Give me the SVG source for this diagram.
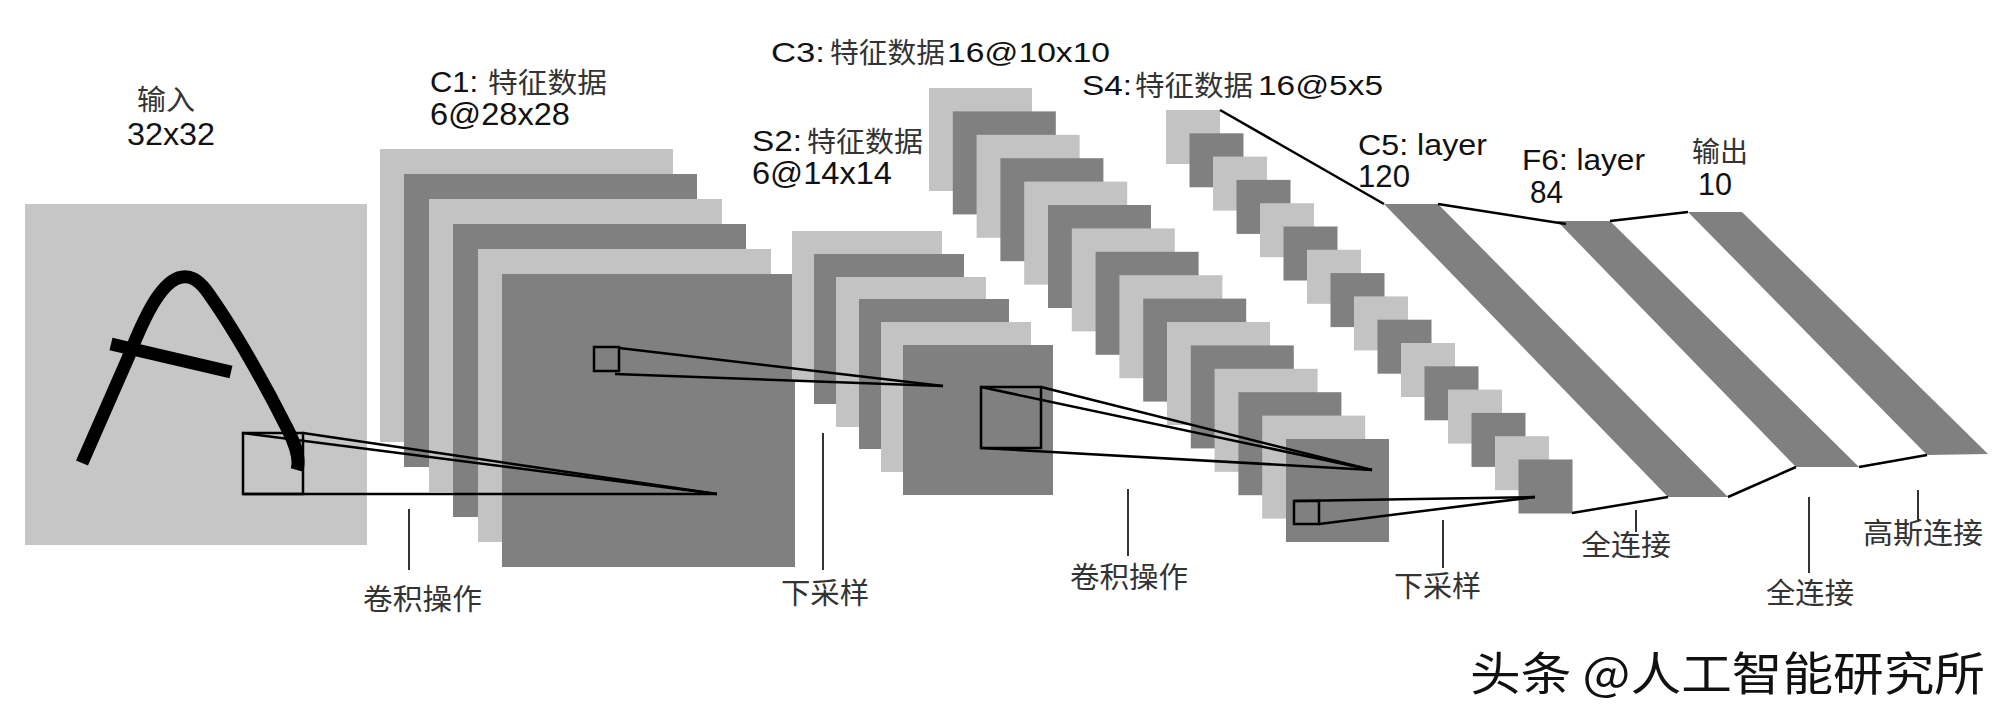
<svg xmlns="http://www.w3.org/2000/svg" width="2014" height="722" viewBox="0 0 2014 722">
<style>
.bg{fill:#ffffff}
.lt{fill:#c3c3c3}
.dk{fill:#808080}
.inp{fill:#c6c6c6}
.band{fill:#808080}
.box{fill:none;stroke:#000;stroke-width:2.5}
.con{stroke:#000;stroke-width:2.5;fill:none}
.tick{stroke:#333;stroke-width:2}
.lat{font-family:"Liberation Sans",Arial,sans-serif;fill:#111}
.cjk{font-family:"Noto Sans CJK SC","Noto Sans",sans-serif;fill:#333}
.wm{font-family:"Noto Sans CJK SC","Noto Sans",sans-serif;fill:#111}
</style>
<rect class="bg" x="0" y="0" width="2014" height="722"/>

<g id="input">
<rect class="inp" x="25" y="204" width="342" height="341"/>
<path d="M 82 463 L 128 358 C 145 315 160 285 178 278 C 190 274 198 280 206 290 C 235 330 268 390 288 430 C 297 448 300 460 297 470" fill="none" stroke="#000" stroke-width="13"/>
<line x1="111" y1="344" x2="231" y2="372" stroke="#000" stroke-width="13"/>
<rect class="box" x="243" y="433" width="60" height="61"/>
<text class="cjk" x="137" y="110" font-size="28" textLength="58" lengthAdjust="spacingAndGlyphs">输入</text>
<text class="lat" x="127" y="145" font-size="32" textLength="88" lengthAdjust="spacingAndGlyphs">32x32</text>
</g>

<g id="c1">
<rect class="lt" x="380" y="149" width="293" height="293"/>
<rect class="dk" x="404" y="174" width="293" height="293"/>
<rect class="lt" x="429" y="199" width="293" height="293"/>
<rect class="dk" x="453" y="224" width="293" height="293"/>
<rect class="lt" x="478" y="249" width="293" height="293"/>
<rect class="dk" x="502" y="274" width="293" height="293"/>
<rect class="box" x="594" y="347" width="25" height="24"/>
<text class="lat" x="430" y="92" font-size="29" textLength="48" lengthAdjust="spacingAndGlyphs">C1:</text>
<text class="cjk" x="488" y="93" font-size="28" textLength="119" lengthAdjust="spacingAndGlyphs">特征数据</text>
<text class="lat" x="430" y="125" font-size="31" textLength="140" lengthAdjust="spacingAndGlyphs">6@28x28</text>
</g>

<g id="s2">
<rect class="lt" x="792" y="231" width="150" height="150"/>
<rect class="dk" x="814" y="254" width="150" height="150"/>
<rect class="lt" x="836" y="277" width="150" height="150"/>
<rect class="dk" x="859" y="299" width="150" height="150"/>
<rect class="lt" x="881" y="322" width="150" height="150"/>
<rect class="dk" x="903" y="345" width="150" height="150"/>
<rect class="box" x="981" y="387" width="60" height="61"/>
<text class="lat" x="752" y="151" font-size="29" textLength="50" lengthAdjust="spacingAndGlyphs">S2:</text>
<text class="cjk" x="807" y="152" font-size="28" textLength="116" lengthAdjust="spacingAndGlyphs">特征数据</text>
<text class="lat" x="752" y="184" font-size="31" textLength="140" lengthAdjust="spacingAndGlyphs">6@14x14</text>
</g>

<g id="c3">
<rect class="lt" x="929" y="88" width="103" height="103"/>
<rect class="dk" x="952.8" y="111.4" width="103" height="103"/>
<rect class="lt" x="976.6" y="134.8" width="103" height="103"/>
<rect class="dk" x="1000.4" y="158.2" width="103" height="103"/>
<rect class="lt" x="1024.2" y="181.6" width="103" height="103"/>
<rect class="dk" x="1048" y="205" width="103" height="103"/>
<rect class="lt" x="1071.8" y="228.4" width="103" height="103"/>
<rect class="dk" x="1095.6" y="251.8" width="103" height="103"/>
<rect class="lt" x="1119.4" y="275.2" width="103" height="103"/>
<rect class="dk" x="1143.2" y="298.6" width="103" height="103"/>
<rect class="lt" x="1167" y="322" width="103" height="103"/>
<rect class="dk" x="1190.8" y="345.4" width="103" height="103"/>
<rect class="lt" x="1214.6" y="368.8" width="103" height="103"/>
<rect class="dk" x="1238.4" y="392.2" width="103" height="103"/>
<rect class="lt" x="1262.2" y="415.6" width="103" height="103"/>
<rect class="dk" x="1286" y="439" width="103" height="103"/>
<rect class="box" x="1294" y="501" width="25" height="23"/>
<text class="lat" x="771" y="62" font-size="28" textLength="54" lengthAdjust="spacingAndGlyphs">C3:</text>
<text class="cjk" x="830" y="63" font-size="28" textLength="115" lengthAdjust="spacingAndGlyphs">特征数据</text>
<text class="lat" x="947" y="62" font-size="28" textLength="163" lengthAdjust="spacingAndGlyphs">16@10x10</text>
</g>

<g id="s4">
<rect class="lt" x="1166" y="110" width="54" height="54"/>
<rect class="dk" x="1189.5" y="133.3" width="54" height="54"/>
<rect class="lt" x="1213" y="156.6" width="54" height="54"/>
<rect class="dk" x="1236.5" y="179.9" width="54" height="54"/>
<rect class="lt" x="1260" y="203.2" width="54" height="54"/>
<rect class="dk" x="1283.5" y="226.5" width="54" height="54"/>
<rect class="lt" x="1307" y="249.8" width="54" height="54"/>
<rect class="dk" x="1330.5" y="273.1" width="54" height="54"/>
<rect class="lt" x="1354" y="296.4" width="54" height="54"/>
<rect class="dk" x="1377.5" y="319.7" width="54" height="54"/>
<rect class="lt" x="1401" y="343" width="54" height="54"/>
<rect class="dk" x="1424.5" y="366.3" width="54" height="54"/>
<rect class="lt" x="1448" y="389.6" width="54" height="54"/>
<rect class="dk" x="1471.5" y="412.9" width="54" height="54"/>
<rect class="lt" x="1495" y="436.2" width="54" height="54"/>
<rect class="dk" x="1518.5" y="459.5" width="54" height="54"/>
<text class="lat" x="1082" y="95" font-size="28" textLength="50" lengthAdjust="spacingAndGlyphs">S4:</text>
<text class="cjk" x="1135" y="96" font-size="28" textLength="118" lengthAdjust="spacingAndGlyphs">特征数据</text>
<text class="lat" x="1258" y="95" font-size="28" textLength="125" lengthAdjust="spacingAndGlyphs">16@5x5</text>
</g>

<g id="c5">
<polygon class="band" points="1384,204 1438,204 1728,497 1668,497"/>
<text class="lat" x="1358" y="155" font-size="29" textLength="129" lengthAdjust="spacingAndGlyphs">C5: layer</text>
<text class="lat" x="1358" y="187" font-size="31" textLength="52" lengthAdjust="spacingAndGlyphs">120</text>
</g>

<g id="f6">
<polygon class="band" points="1557,221 1610,221 1859,467 1796,467"/>
<text class="lat" x="1522" y="170" font-size="29" textLength="123" lengthAdjust="spacingAndGlyphs">F6: layer</text>
<text class="lat" x="1530" y="203" font-size="31" textLength="33" lengthAdjust="spacingAndGlyphs">84</text>
</g>

<g id="output">
<polygon class="band" points="1688,212 1742,212 1988,454 1927,455"/>
<text class="cjk" x="1692" y="162" font-size="28" textLength="56" lengthAdjust="spacingAndGlyphs">输出</text>
<text class="lat" x="1698" y="195" font-size="31" textLength="34" lengthAdjust="spacingAndGlyphs">10</text>
</g>

<g id="connectors">
<line class="con" x1="243" y1="433" x2="717" y2="494"/>
<line class="con" x1="303" y1="433" x2="717" y2="494"/>
<line class="con" x1="243" y1="494" x2="717" y2="494" stroke="#3a1515"/>
<line class="con" x1="619" y1="348" x2="943" y2="386"/>
<line class="con" x1="615" y1="374" x2="943" y2="386"/>
<line class="con" x1="981" y1="387" x2="1372" y2="470"/>
<line class="con" x1="1041" y1="387" x2="1372" y2="470"/>
<line class="con" x1="981" y1="448" x2="1372" y2="470"/>
<line class="con" x1="1294" y1="501" x2="1535" y2="497"/>
<line class="con" x1="1319" y1="524" x2="1535" y2="497"/>
<line class="con" x1="1220" y1="110" x2="1384" y2="204"/>
<line class="con" x1="1572" y1="513" x2="1668" y2="497"/>
<line class="con" x1="1438" y1="204" x2="1566" y2="224"/>
<line class="con" x1="1728" y1="497" x2="1796" y2="467"/>
<line class="con" x1="1610" y1="221" x2="1688" y2="212"/>
<line class="con" x1="1859" y1="467" x2="1927" y2="455"/>
</g>

<g id="op-labels">
<line class="tick" x1="409" y1="509" x2="409" y2="570"/>
<text class="cjk" x="363" y="610" font-size="29" textLength="119" lengthAdjust="spacingAndGlyphs">卷积操作</text>
<line class="tick" x1="823" y1="433" x2="823" y2="570"/>
<text class="cjk" x="781" y="604" font-size="29" textLength="88" lengthAdjust="spacingAndGlyphs">下采样</text>
<line class="tick" x1="1128" y1="489" x2="1128" y2="556"/>
<text class="cjk" x="1070" y="588" font-size="29" textLength="118" lengthAdjust="spacingAndGlyphs">卷积操作</text>
<line class="tick" x1="1443" y1="520" x2="1443" y2="568"/>
<text class="cjk" x="1394" y="597" font-size="29" textLength="87" lengthAdjust="spacingAndGlyphs">下采样</text>
<line class="tick" x1="1636" y1="510" x2="1636" y2="532"/>
<text class="cjk" x="1581" y="556" font-size="29" textLength="90" lengthAdjust="spacingAndGlyphs">全连接</text>
<line class="tick" x1="1809" y1="497" x2="1809" y2="573"/>
<text class="cjk" x="1766" y="604" font-size="29" textLength="88" lengthAdjust="spacingAndGlyphs">全连接</text>
<line class="tick" x1="1918" y1="490" x2="1918" y2="522"/>
<text class="cjk" x="1863" y="544" font-size="29" textLength="120" lengthAdjust="spacingAndGlyphs">高斯连接</text>
</g>

<g id="watermark">
<text class="wm" x="1470" y="690" font-size="46" textLength="515" lengthAdjust="spacingAndGlyphs">头条 @人工智能研究所</text>
</g>
</svg>
